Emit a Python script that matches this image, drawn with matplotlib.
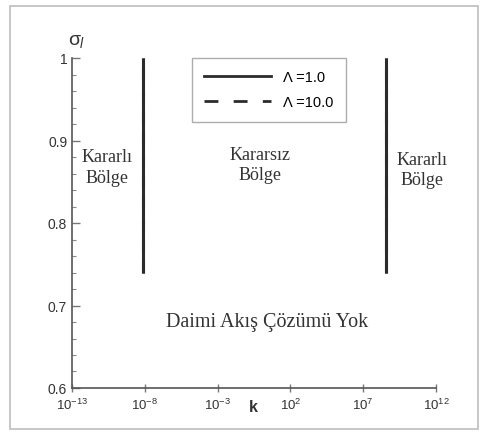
import matplotlib
matplotlib.use("Agg")
import matplotlib.pyplot as plt
from matplotlib.patches import Rectangle
from matplotlib.ticker import FixedLocator, MultipleLocator, NullLocator

# Stability boundaries (k, sigma_l) for each Lambda value
sigma_bounds = [0.74, 1.0]
k_left = 10 ** -8.1
k_right = 10 ** 8.6
lambda_labels = ["\u039b =1.0", "\u039b =10.0"]
x_ticks = [1e-13, 1e-8, 1e-3, 1e2, 1e7, 1e12]
x_tick_labels = [r"$10^{-13}$", r"$10^{-8}$", r"$10^{-3}$", r"$10^{2}$", r"$10^{7}$", r"$10^{12}$"]
y_ticks = [0.6, 0.7, 0.8, 0.9, 1.0]
y_tick_labels = ["0.6", "0.7", "0.8", "0.9", "1"]

plt.rcParams["font.family"] = ["Liberation Sans", "DejaVu Sans"]
plt.rcParams["mathtext.fontset"] = "custom"
plt.rcParams["mathtext.rm"] = "Liberation Sans"
plt.rcParams["mathtext.it"] = "Liberation Sans:italic"

fig = plt.figure(figsize=(4.87, 4.39), dpi=100)
fig.patches.append(Rectangle((10 / 487, 1 - 430 / 439), 468 / 487, 423 / 439,
                             transform=fig.transFigure, fill=False,
                             edgecolor="#bdbdbd", linewidth=1.2))

ax = fig.add_axes([72 / 487, 1 - 389 / 439, 364 / 487, 330 / 439])
ax.set_xscale("log")
ax.set_xlim(1e-13, 1e12)
ax.set_ylim(0.6, 1.0)

line_color = "#2b2b2b"
for k in (k_left, k_right):
    ax.plot([k, k], sigma_bounds, color=line_color, lw=2.2, solid_capstyle="butt")
    ax.plot([k, k], sigma_bounds, color=line_color, lw=2.2, ls=(0, (4, 3)))

h1, = ax.plot([], [], color=line_color, lw=2.0)
h2, = ax.plot([], [], color=line_color, lw=2.0, ls=(0, (5, 5.5)))
leg = ax.legend([h1, h2], lambda_labels, loc="upper left",
                bbox_to_anchor=(120 / 364, 1.0), borderaxespad=0.0,
                frameon=True, fancybox=False, edgecolor="#999999", fontsize=10.5,
                handlelength=4.6, borderpad=0.85, labelspacing=0.75,
                handletextpad=0.8)
leg.get_frame().set_linewidth(1.0)

for s in ("top", "right"):
    ax.spines[s].set_visible(False)
for s in ("left", "bottom"):
    ax.spines[s].set_color("#555555")
    ax.spines[s].set_linewidth(1.2)

ax.xaxis.set_major_locator(FixedLocator(x_ticks))
ax.xaxis.set_minor_locator(NullLocator())
ax.set_xticklabels(x_tick_labels, fontsize=9.5, color="#333333")
ax.set_yticks(y_ticks)
ax.set_yticklabels(y_tick_labels, fontsize=10, color="#333333")
ax.yaxis.set_minor_locator(MultipleLocator(0.02))
ax.tick_params(axis="x", which="major", direction="inout", length=6, width=1, color="#777777")
ax.tick_params(axis="y", which="major", direction="in", length=6, width=1, color="#777777")
ax.tick_params(axis="y", which="minor", direction="in", length=3, width=0.8, color="#888888")

ax.text(-0.01, 1.03, "\u03c3", transform=ax.transAxes, fontsize=14,
        ha="left", va="bottom", color="#333333")
ax.text(0.022, 1.025, "l", transform=ax.transAxes, fontsize=10, style="italic",
        ha="left", va="bottom", color="#333333")
ax.text(0.497, -0.055, "k", transform=ax.transAxes, fontsize=11.5,
        fontweight="bold", ha="center", va="center", color="#333333")

serif = ["Liberation Serif", "DejaVu Serif"]
ax.text(10 ** -10.6, 0.868, "Kararlı\nBölge", family=serif, fontsize=13,
        ha="center", va="center", color="#333333", linespacing=1.25)
ax.text(10 ** -0.09, 0.871, "Kararsız\nBölge", family=serif, fontsize=13,
        ha="center", va="center", color="#333333", linespacing=1.25)
ax.text(10 ** 11.04, 0.865, "Kararlı\nBölge", family=serif, fontsize=13,
        ha="center", va="center", color="#333333", linespacing=1.25)
ax.text(10 ** 0.43, 0.681, "Daimi Akış Çözümü Yok", family=serif, fontsize=14.5,
        ha="center", va="center", color="#333333")

fig.savefig("out.png", dpi=100, facecolor="white")
